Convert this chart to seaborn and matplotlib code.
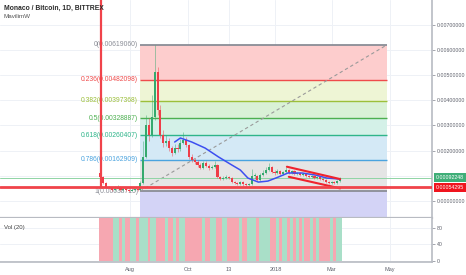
import matplotlib
matplotlib.use("Agg")
import matplotlib.pyplot as plt
import seaborn as sns
import pandas as pd

# ---------------- data ----------------
# 3-day candles starting 2017-07-01 (day 0); values in BTC
candle_days = list(range(0, 253, 3))
closes = [
    0.00095, 0.00071, 0.00056, 0.00052, 0.00044, 0.00048, 0.00056, 0.00044, 0.00048, 0.00044,
    0.00040, 0.00044, 0.00048, 0.00044, 0.00071, 0.00175, 0.00302, 0.00262, 0.00333, 0.00512,
    0.00361, 0.00262, 0.00230, 0.00238, 0.00210, 0.00190, 0.00210, 0.00206, 0.00230, 0.00242,
    0.00222, 0.00175, 0.00163, 0.00155, 0.00143, 0.00131, 0.00151, 0.00139, 0.00131, 0.00135,
    0.00143, 0.00095, 0.00087, 0.00091, 0.00095, 0.00091, 0.00075, 0.00071, 0.00067, 0.00075,
    0.00067, 0.00063, 0.00067, 0.00099, 0.00099, 0.00083, 0.00103, 0.00111, 0.00123, 0.00135,
    0.00115, 0.00111, 0.00119, 0.00107, 0.00115, 0.00123, 0.00111, 0.00119, 0.00107, 0.00111,
    0.00103, 0.00107, 0.00099, 0.00095, 0.00099, 0.00091, 0.00095, 0.00087, 0.00083, 0.00075,
    0.00071, 0.00075, 0.00071, 0.00079, 0.00092248,
]
highs = [
    0.00125, 0.00098, 0.00074, 0.00060, 0.00055, 0.00058, 0.00062, 0.00058, 0.00052, 0.00050,
    0.00047, 0.00048, 0.00052, 0.00050, 0.00080, 0.00240, 0.00340, 0.00330, 0.00420, 0.00619,
    0.00530, 0.00380, 0.00280, 0.00262, 0.00250, 0.00220, 0.00225, 0.00228, 0.00245, 0.00274,
    0.00255, 0.00228, 0.00185, 0.00172, 0.00162, 0.00150, 0.00160, 0.00158, 0.00145, 0.00142,
    0.00158, 0.00146, 0.00100, 0.00098, 0.00103, 0.00099, 0.00094, 0.00080, 0.00076, 0.00080,
    0.00078, 0.00070, 0.00072, 0.00128, 0.00112, 0.00104, 0.00112, 0.00122, 0.00135, 0.00150,
    0.00140, 0.00122, 0.00126, 0.00123, 0.00120, 0.00133, 0.00126, 0.00124, 0.00122, 0.00117,
    0.00115, 0.00112, 0.00110, 0.00103, 0.00104, 0.00102, 0.00100, 0.00098, 0.00091, 0.00086,
    0.00079, 0.00081, 0.00078, 0.00084, 0.00097,
]
lows = [
    0.00090, 0.00066, 0.00052, 0.00046, 0.00040, 0.00041, 0.00046, 0.00040, 0.00041, 0.00040,
    0.00036, 0.00038, 0.00040, 0.00039, 0.00042, 0.00068, 0.00170, 0.00240, 0.00255, 0.00320,
    0.00340, 0.00250, 0.00215, 0.00220, 0.00200, 0.00180, 0.00185, 0.00195, 0.00200, 0.00225,
    0.00215, 0.00168, 0.00155, 0.00148, 0.00136, 0.00125, 0.00127, 0.00133, 0.00124, 0.00126,
    0.00130, 0.00090, 0.00082, 0.00083, 0.00087, 0.00086, 0.00070, 0.00066, 0.00062, 0.00064,
    0.00061, 0.00057, 0.00058, 0.00064, 0.00088, 0.00078, 0.00080, 0.00098, 0.00106, 0.00118,
    0.00110, 0.00105, 0.00106, 0.00102, 0.00103, 0.00110, 0.00106, 0.00106, 0.00102, 0.00103,
    0.00098, 0.00099, 0.00094, 0.00090, 0.00091, 0.00087, 0.00087, 0.00083, 0.00078, 0.00071,
    0.00066, 0.00068, 0.00067, 0.00069, 0.00076,
]
first_open = 0.00110
volumes = [
    103, 103, 103, 103, 103, 103, 103, 103, 103, 103,
    103, 103, 103, 103, 103, 103, 103, 103, 103, 103,
    103, 103, 103, 103, 103, 103, 103, 103, 103, 103,
    103, 103, 103, 103, 103, 103, 103, 103, 103, 103,
    103, 103, 103, 103, 103, 103, 103, 103, 103, 103,
    103, 103, 103, 103, 103, 103, 103, 103, 103, 103,
    103, 103, 103, 103, 103, 103, 103, 103, 103, 103,
    103, 103, 103, 103, 103, 103, 103, 103, 103, 103,
    103, 103, 103, 103, 103,
]
ma_days = [78, 84, 96, 110, 124, 138, 147, 155, 166, 176, 187, 197, 212, 226, 238, 252]
ma_values = [0.00234, 0.00250, 0.00234, 0.00210, 0.00175, 0.00143, 0.00123, 0.00091,
             0.00075, 0.00079, 0.00095, 0.00111, 0.00111, 0.00103, 0.00091, 0.00087]

fib_levels = ["0", "0.236", "0.382", "0.5", "0.618", "0.786", "1"]
fib_prices = [0.00619060, 0.00482098, 0.00397368, 0.00328887, 0.00260407, 0.00162909, 0.00038715]
fib_ext_price = -0.00320   # 1.618 level (below view)
fib_days = [41.5, 301]

support_price = 0.00054295
last_price = 0.00092248
channel_upper_days = [196, 252]
channel_upper = [0.00136, 0.00087]
channel_lower_days = [198, 252]
channel_lower = [0.00096, 0.00050]
vline_day = 0.5

xtick_days = [31, 92, 135, 184, 243, 304]
xtick_labels = ["Aug", "Oct", "13", "2018", "Mar", "May"]
price_ticks = [0.0, 0.002, 0.003, 0.004, 0.005, 0.006, 0.007]
vol_ticks = [0, 40, 80]

# ---------------- styling ----------------
sns.set_style("white")
plt.rcParams["font.family"] = ["Liberation Sans", "DejaVu Sans"]

W, H = 466, 275
fig = plt.figure(figsize=(W / 100, H / 100), dpi=100)
ax = fig.add_axes([0, 57 / H, 432 / W, 218 / H])
axv = fig.add_axes([0, 13 / H, 432 / W, 44 / H], sharex=ax)

grid_c = "#eef1f6"
ax.set_xlim(-105.7, 348.6)
ax.set_ylim(-0.000675, 0.007976)
axv.set_ylim(-2.4, 104)

# grid
for d in xtick_days:
    ax.axvline(d, color=grid_c, lw=0.7, zorder=0)
    axv.axvline(d, color=grid_c, lw=0.7, zorder=0)
for p in [0.0, 0.001, 0.002, 0.003, 0.004, 0.005, 0.006, 0.007]:
    ax.axhline(p, color=grid_c, lw=0.7, zorder=0)
for v in vol_ticks:
    axv.axhline(v, color=grid_c, lw=0.7, zorder=0)

# fibonacci retracement
fib_colors = ["#8a8d96", "#ef4b4b", "#9cbf3a", "#4caf50", "#2fb58a", "#4aa3df", "#8a8d96"]
fill_colors = ["#fdcdcd", "#eef5d5", "#d9f1d6", "#d4f1e8", "#d4e9f6", "#e5e5e5"]
s, e = fib_days
for i in range(len(fib_prices) - 1):
    ax.fill_between([s, e], fib_prices[i + 1], fib_prices[i], color=fill_colors[i], lw=0, zorder=1)
ax.fill_between([s, e], fib_ext_price, fib_prices[-1], color="#d3d3f6", lw=0, zorder=1)
for lvl, p, c in zip(fib_levels, fib_prices, fib_colors):
    ax.hlines(p, s, e, color=c, lw=1.0 if lvl not in ("0", "1") else 1.3, zorder=2)
    ax.text(s - 2, p, f"{lvl}({p:.8f})", ha="right", va="center", fontsize=4.9, color=c, zorder=3)

# dashed trend line of the fib
sns.lineplot(x=fib_days, y=[fib_prices[-1], fib_prices[0]], ax=ax, color="#9a9a9a",
             lw=0.8, linestyle=(0, (3, 2.5)), zorder=3)

# candles
opens = [first_open] + closes[:-1]
up_c, dn_c = "#35a96e", "#ef3d48"
bottoms, heights, colors = [], [], []
for o, c in zip(opens, closes):
    bottoms.append(min(o, c))
    heights.append(max(abs(c - o), 0.00003))
    colors.append(up_c if c >= o else dn_c)
ax.vlines(candle_days, lows, highs, colors=colors, lw=0.6, alpha=0.55, zorder=3.5)
ax.bar(candle_days, heights, bottom=bottoms, width=2.2, color=colors, lw=0, zorder=4)

# moving average (MavilimW)
sns.lineplot(x=ma_days, y=ma_values, ax=ax, color="#3d4ff0", lw=1.1, zorder=5)

# channel lines
sns.lineplot(x=channel_upper_days, y=channel_upper, ax=ax, color="#f0232d", lw=1.5, zorder=6)
sns.lineplot(x=channel_lower_days, y=channel_lower, ax=ax, color="#f0232d", lw=1.5, zorder=6)

# support / last price / vertical
ax.axhline(last_price, color="#8fd4a4", lw=0.7, zorder=3)
ax.axhline(support_price, color="#f0434a", lw=2.0, zorder=6)
ax.vlines(vline_day, support_price, 0.0080, color="#f0434a", lw=1.6, zorder=6)

# volume
vol_colors = ["#a9dfc8" if c == up_c else "#f6a7b1" for c in colors]
axv.bar(candle_days, volumes, width=3.0, color=vol_colors, lw=0, zorder=2)

# axes decoration
for a in (ax, axv):
    for sp in ("left", "top"):
        a.spines[sp].set_visible(False)
    a.spines["right"].set_color("#b8bbc2")
    a.spines["right"].set_linewidth(1.2)
    a.spines["bottom"].set_color("#b8bbc2")
    a.yaxis.tick_right()
    a.tick_params(axis="y", direction="out", length=2, width=0.6, color="#9598a1",
                  labelsize=3.8, labelcolor="#5d606b", pad=1.5)
ax.spines["bottom"].set_linewidth(1.6)
axv.spines["bottom"].set_linewidth(1.2)

ax.set_yticks(price_ticks)
ax.set_yticklabels([f"{p:.8f}" for p in price_ticks])
axv.set_yticks(vol_ticks)
axv.set_yticklabels([str(v) for v in vol_ticks])

ax.tick_params(axis="x", bottom=False, labelbottom=False)
axv.set_xticks(xtick_days)
axv.set_xticklabels(xtick_labels)
axv.tick_params(axis="x", direction="out", length=2, width=0.6, color="#9598a1",
                labelsize=4.0, labelcolor="#5d606b", pad=1.5)

# price tags
ax.annotate(f"{last_price:.8f}", xy=(1.0, last_price), xycoords=ax.get_yaxis_transform(),
            xytext=(3, 0), textcoords="offset points", ha="left", va="center",
            fontsize=3.8, color="white", zorder=10, annotation_clip=False,
            bbox=dict(boxstyle="square,pad=0.35", fc="#3fae78", ec="none"))
ax.annotate(f"{support_price:.8f}", xy=(1.0, support_price), xycoords=ax.get_yaxis_transform(),
            xytext=(3, 0), textcoords="offset points", ha="left", va="center",
            fontsize=3.8, color="white", zorder=10, annotation_clip=False,
            bbox=dict(boxstyle="square,pad=0.35", fc="#f0141e", ec="none"))

# texts
fig.text(4 / W, 1 - 8 / H, "Monaco / Bitcoin, 1D, BITTREX", fontsize=4.9, fontweight="bold",
         color="#2a2a2a", va="center", ha="left")
fig.text(4 / W, 1 - 17 / H, "MavilimW", fontsize=4.5, color="#555555", va="center", ha="left")
axv.text(4 / 432, 0.78, "Vol (20)", transform=axv.transAxes, fontsize=4.3, color="#444444",
         va="center", ha="left")

ax.set_xlabel("")
ax.set_ylabel("")
axv.set_xlabel("")
axv.set_ylabel("")

fig.savefig("out.png", dpi=100)
